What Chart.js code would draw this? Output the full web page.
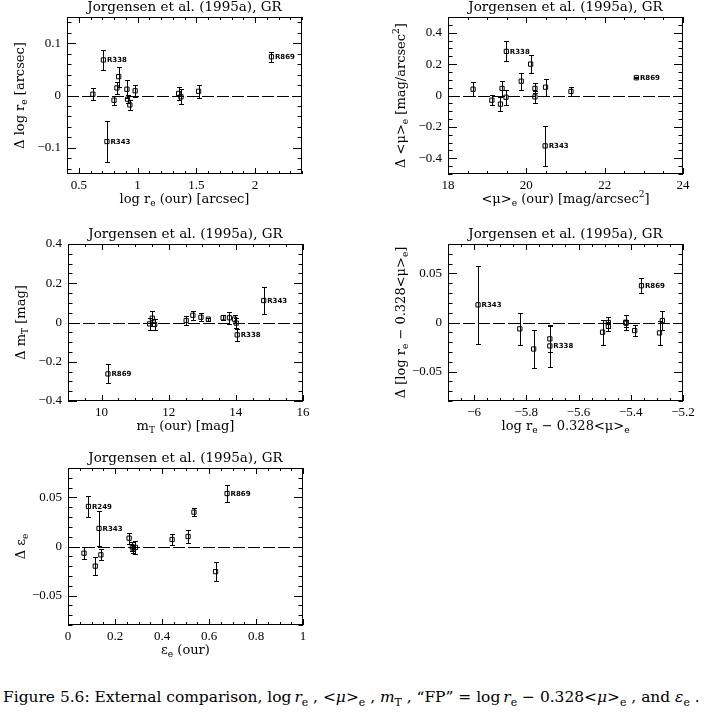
<!DOCTYPE html>
<html>
<head>
<meta charset="utf-8">
<script src="https://cdn.jsdelivr.net/npm/chart.js@4.4.0/dist/chart.umd.min.js"></script>
<style>
  body { margin: 0; background: #fff; width: 705px; height: 712px; position: relative; overflow: hidden; }
  canvas { position: absolute; }
  #caption { position: absolute; left: 3px; top: 688px; font: 15px 'DejaVu Serif', serif; white-space: nowrap; color: #000; line-height: 18px; }
  #caption sub { font-size: 0.7em; }
</style>
</head>
<body>
<div id="caption">Figure 5.6: External comparison, log&thinsp;<i>r</i><sub>e</sub> , &lt;<i>μ</i>&gt;<sub>e</sub> , <i>m</i><sub>T</sub> , “FP” = log&thinsp;<i>r</i><sub>e</sub> − 0.328&lt;<i>μ</i>&gt;<sub>e</sub> , and <i>ε</i><sub>e</sub> .</div>
<script>
// panel 1: log re
const reX = [0.62, 0.71, 0.74, 0.80, 0.825, 0.84, 0.91, 0.915, 0.935, 0.98, 1.35, 1.37, 1.52, 2.14];
const reY = [0.0025, 0.068, -0.088, -0.009, 0.0145, 0.036, 0.012, -0.007, -0.018, 0.009, 0.004, -0.0025, 0.008, 0.074];
const reErr = [0.011, 0.019, 0.039, 0.009, 0.012, 0.019, 0.017, 0.008, 0.010, 0.011, 0.013, 0.014, 0.013, 0.010];
const reNames = ['', 'R338', 'R343', '', '', '', '', '', '', '', '', '', '', 'R869'];

// panel 2: <mu>e
const muX = [18.64, 19.12, 19.34, 19.38, 19.49, 19.48, 19.87, 20.11, 20.22, 20.22, 20.49, 20.48, 21.14, 22.81];
const muY = [0.040, -0.030, -0.055, 0.045, 0.281, -0.011, 0.091, 0.200, 0.045, -0.009, 0.053, -0.321, 0.026, 0.113];
const muErr = [0.043, 0.032, 0.044, 0.046, 0.064, 0.048, 0.053, 0.055, 0.032, 0.037, 0.055, 0.126, 0.030, 0.004];
const muNames = ['', '', '', '', 'R338', '', '', '', '', '', '', 'R343', '', 'R869'];

// panel 3: mT
const mtX = [10.19, 11.43, 11.51, 11.58, 12.52, 12.72, 12.96, 13.18, 13.62, 13.81, 13.96, 14.01, 14.04, 14.83];
const mtY = [-0.262, -0.007, 0.022, -0.010, 0.010, 0.037, 0.027, 0.017, 0.024, 0.024, 0.017, -0.003, -0.063, 0.112];
const mtErr = [0.048, 0.031, 0.038, 0.029, 0.025, 0.023, 0.021, 0.008, 0.013, 0.030, 0.020, 0.025, 0.029, 0.069];
const mtNames = ['R869', '', '', '', '', '', '', '', '', '', '', '', 'R338', 'R343'];

// panel 4: FP combination
const fpX = [-5.985, -5.825, -5.772, -5.71, -5.71, -5.508, -5.486, -5.486, -5.419, -5.418, -5.385, -5.359, -5.29, -5.279];
const fpY = [0.018, -0.0065, -0.027, -0.0167, -0.0239, -0.0099, 0.0, -0.004, 0.0003, -0.0007, -0.0082, 0.0375, -0.0106, 0.002];
const fpErr = [0.040, 0.016, 0.019, 0.013, 0.021, 0.0126, 0.006, 0.005, 0.0077, 0.0035, 0.0055, 0.0077, 0.0123, 0.010];
const fpNames = ['R343', '', '', '', 'R338', '', '', '', '', '', '', 'R869', '', ''];

// panel 5: ellipticity
const epsX = [0.068, 0.087, 0.116, 0.132, 0.14, 0.26, 0.274, 0.277, 0.287, 0.443, 0.511, 0.536, 0.628, 0.677];
const epsY = [-0.0068, 0.0408, -0.020, 0.0184, -0.0085, 0.0085, -0.0003, -0.0027, -0.001, 0.0071, 0.0102, 0.035, -0.0256, 0.054];
const epsErr = [0.0063, 0.0104, 0.009, 0.018, 0.0056, 0.0056, 0.0046, 0.004, 0.007, 0.0053, 0.0063, 0.0042, 0.0094, 0.009];
const epsNames = ['', 'R249', '', 'R343', '', '', '', '', '', '', '', '', '', 'R869'];

const title = 'Jorgensen et al. (1995a), GR';

const panels = [
  { left: 67, top: 17, xs: reX, ys: reY, err: reErr, names: reNames,
    x: { min: 0.4, max: 2.4, major: 0.5, minor: 0.1, ticks: [0.5, 1, 1.5, 2] },
    y: { min: -0.15, max: 0.15, major: 0.1, minor: 0.02, ticks: [-0.1, 0, 0.1] },
    xLabel: [['log r', ''], ['e', '_'], [' (our) [arcsec]', '']],
    yLabel: [['Δ log r', ''], ['e', '_'], [' [arcsec]', '']] },
  { left: 448, top: 17, xs: muX, ys: muY, err: muErr, names: muNames,
    x: { min: 18, max: 24, major: 2, minor: 0.5, ticks: [18, 20, 22, 24] },
    y: { min: -0.5, max: 0.5, major: 0.2, minor: 0.05, ticks: [-0.4, -0.2, 0, 0.2, 0.4] },
    xLabel: [['<μ>', ''], ['e', '_'], [' (our) [mag/arcsec', ''], ['2', '^'], [']', '']],
    yLabel: [['Δ <μ>', ''], ['e', '_'], [' [mag/arcsec', ''], ['2', '^'], [']', '']] },
  { left: 68, top: 244, xs: mtX, ys: mtY, err: mtErr, names: mtNames,
    x: { min: 9, max: 16, major: 2, minor: 0.5, ticks: [10, 12, 14, 16] },
    y: { min: -0.4, max: 0.4, major: 0.2, minor: 0.05, ticks: [-0.4, -0.2, 0, 0.2, 0.4] },
    xLabel: [['m', ''], ['T', '_'], [' (our) [mag]', '']],
    yLabel: [['Δ m', ''], ['T', '_'], [' [mag]', '']] },
  { left: 448, top: 244, xs: fpX, ys: fpY, err: fpErr, names: fpNames,
    x: { min: -6.1, max: -5.2, major: 0.2, minor: 0.05, ticks: [-6, -5.8, -5.6, -5.4, -5.2] },
    y: { min: -0.08, max: 0.08, major: 0.05, minor: 0.01, ticks: [-0.05, 0, 0.05] },
    xLabel: [['log r', ''], ['e', '_'], [' − 0.328<μ>', ''], ['e', '_']],
    yLabel: [['Δ [log r', ''], ['e', '_'], [' − 0.328<μ>', ''], ['e', '_'], [']', '']] },
  { left: 68, top: 468, xs: epsX, ys: epsY, err: epsErr, names: epsNames,
    x: { min: 0, max: 1, major: 0.2, minor: 0.05, ticks: [0, 0.2, 0.4, 0.6, 0.8, 1] },
    y: { min: -0.08, max: 0.08, major: 0.05, minor: 0.01, ticks: [-0.05, 0, 0.05] },
    xLabel: [['ε', ''], ['e', '_'], [' (our)', '']],
    yLabel: [['Δ ε', ''], ['e', '_']] }
];

const W = 235, H = 157, PL = 60, PT = 20, PR = 20, PB = 45;
const serif = "'DejaVu Serif', serif";

function fmt(v) {
  return String(+v.toFixed(3)).replace('-', '−');
}

function richParts(ctx, parts, size) {
  return parts.map(([t, m]) => {
    const s = m ? size * 0.7 : size;
    ctx.font = s + 'px ' + serif;
    return { t, s, dy: m === '_' ? size * 0.3 : m === '^' ? -size * 0.45 : 0, w: ctx.measureText(t).width };
  });
}

function drawRich(ctx, parts, cx, cy, size, rot) {
  const items = richParts(ctx, parts, size);
  const total = items.reduce((a, b) => a + b.w, 0);
  ctx.save();
  ctx.translate(cx, cy);
  if (rot) ctx.rotate(-Math.PI / 2);
  ctx.textBaseline = 'middle';
  ctx.textAlign = 'left';
  let x = -total / 2;
  items.forEach(it => {
    ctx.font = it.s + 'px ' + serif;
    ctx.fillText(it.t, x, it.dy);
    x += it.w;
  });
  ctx.restore();
}

function drawTicks(ctx, scale, def, a, horiz, majLen, minLen) {
  const start = Math.ceil(def.min / def.minor - 1e-6);
  const end = Math.floor(def.max / def.minor + 1e-6);
  ctx.beginPath();
  for (let k = start; k <= end; k++) {
    const v = k * def.minor;
    const r = v / def.major;
    const len = Math.abs(r - Math.round(r)) < 1e-6 ? majLen : minLen;
    const p = Math.round(scale.getPixelForValue(v)) + 0.5;
    if (horiz) {
      ctx.moveTo(p, a.bottom); ctx.lineTo(p, a.bottom - len);
      ctx.moveTo(p, a.top); ctx.lineTo(p, a.top + len);
    } else {
      ctx.moveTo(a.left, p); ctx.lineTo(a.left + len, p);
      ctx.moveTo(a.right, p); ctx.lineTo(a.right - len, p);
    }
  }
  ctx.stroke();
}

const framePlugin = {
  id: 'frame',
  beforeDatasetsDraw(chart, args, opts) {
    const { ctx, chartArea: a, scales: { x, y } } = chart;
    const p = opts.panel;
    ctx.save();
    ctx.strokeStyle = '#000';
    ctx.lineWidth = 1;
    const y0 = Math.round(y.getPixelForValue(0)) + 0.5;
    ctx.setLineDash([12, 3]);
    ctx.beginPath(); ctx.moveTo(a.left, y0); ctx.lineTo(a.right, y0); ctx.stroke();
    ctx.setLineDash([]);
    ctx.strokeRect(Math.round(a.left) + 0.5, Math.round(a.top) + 0.5, Math.round(a.right - a.left) - 1, Math.round(a.bottom - a.top) - 1);
    drawTicks(ctx, x, p.x, a, true, 6, 3);
    drawTicks(ctx, y, p.y, a, false, 9, 4.5);
    ctx.restore();
  },
  afterDatasetsDraw(chart, args, opts) {
    const { ctx, chartArea: a, scales: { x, y } } = chart;
    const p = opts.panel;
    ctx.save();
    ctx.strokeStyle = '#000';
    ctx.fillStyle = '#000';
    ctx.lineWidth = 1;
    ctx.beginPath();
    p.xs.forEach((xv, i) => {
      const px = Math.round(x.getPixelForValue(xv)) + 0.5;
      const t = Math.round(y.getPixelForValue(p.ys[i] + p.err[i])) + 0.5;
      const b = Math.round(y.getPixelForValue(p.ys[i] - p.err[i])) + 0.5;
      ctx.moveTo(px, t); ctx.lineTo(px, b);
      ctx.moveTo(px - 2.5, t); ctx.lineTo(px + 2.5, t);
      ctx.moveTo(px - 2.5, b); ctx.lineTo(px + 2.5, b);
    });
    ctx.stroke();
    ctx.font = "bold 7px 'DejaVu Sans', sans-serif";
    ctx.textBaseline = 'middle';
    p.names.forEach((n, i) => {
      if (!n) return;
      ctx.fillText(n, x.getPixelForValue(p.xs[i]) + 3.5, y.getPixelForValue(p.ys[i]) + 0.5);
    });
    // titles
    const cx = (a.left + a.right) / 2;
    ctx.font = '13.5px ' + serif;
    ctx.textAlign = 'center';
    ctx.textBaseline = 'alphabetic';
    ctx.fillText(title, cx, a.top - 6);
    drawRich(ctx, p.xLabel, cx, a.bottom + 26, 13, false);
    drawRich(ctx, p.yLabel, a.left - 46, (a.top + a.bottom) / 2, 13, true);
    ctx.restore();
  }
};

function axis(def, isX) {
  return {
    type: 'linear',
    min: def.min,
    max: def.max,
    afterBuildTicks: s => { s.ticks = def.ticks.map(v => ({ value: v })); },
    afterFit: s => { if (isX) s.height = PB; else s.width = PL; },
    grid: { display: false, drawTicks: false },
    border: { display: false },
    ticks: {
      autoSkip: false, maxRotation: 0, color: '#000',
      padding: isX ? 4 : 6,
      font: { family: 'Liberation Serif', size: 13 },
      callback: v => fmt(v)
    }
  };
}

panels.forEach(p => {
  const c = document.createElement('canvas');
  c.width = PL + W + PR;
  c.height = PT + H + PB;
  c.style.left = (p.left - PL) + 'px';
  c.style.top = (p.top - PT) + 'px';
  document.body.appendChild(c);
  new Chart(c, {
    type: 'scatter',
    data: {
      datasets: [{
        data: p.xs.map((v, i) => ({ x: v, y: p.ys[i] })),
        pointStyle: 'rect',
        pointRadius: 3,
        pointHoverRadius: 3,
        borderColor: '#000',
        backgroundColor: 'rgba(0,0,0,0)',
        borderWidth: 1
      }]
    },
    options: {
      responsive: false,
      animation: false,
      events: [],
      layout: { padding: { left: 0, top: PT, right: PR, bottom: 0 } },
      scales: { x: axis(p.x, true), y: axis(p.y, false) },
      plugins: { legend: { display: false }, tooltip: { enabled: false }, frame: { panel: p } }
    },
    plugins: [framePlugin]
  });
});

// stretch the caption to the page width
const cap = document.getElementById('caption');
const fs = 15 * 697 / cap.getBoundingClientRect().width;
cap.style.fontSize = Math.min(fs, 17) + 'px';
</script>
</body>
</html>
